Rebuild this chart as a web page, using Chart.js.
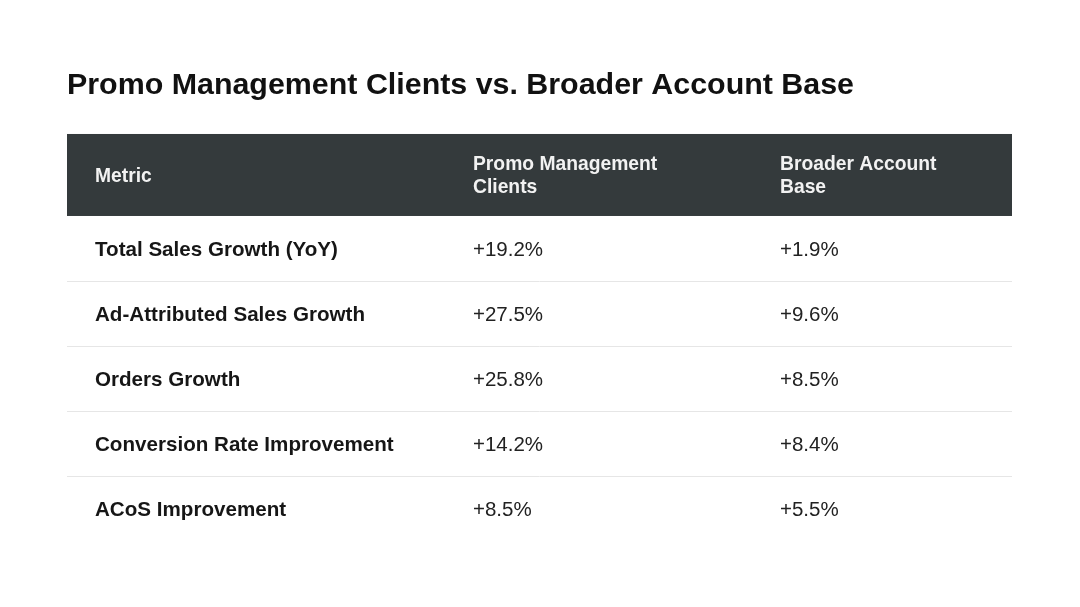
<!DOCTYPE html>
<html>
<head>
<meta charset="utf-8">
<script src="https://cdn.jsdelivr.net/npm/chart.js@4.4.1/dist/chart.umd.min.js"></script>
<style>
  body { margin: 0; background: #fff; }
  #wrap { width: 1080px; height: 607px; }
</style>
</head>
<body>
<div id="wrap"><canvas id="tabela"></canvas></div>
<script>
// dados da tabela
var metricas = ['Total Sales Growth (YoY)', 'Ad-Attributed Sales Growth', 'Orders Growth', 'Conversion Rate Improvement', 'ACoS Improvement'];
var promoClientes = [19.2, 27.5, 25.8, 14.2, 8.5];
var baseGeral = [1.9, 9.6, 8.5, 8.4, 5.5];
var cabecalhos = [['Metric'], ['Promo Management', 'Clients'], ['Broader Account', 'Base']];

var fonte = '"Liberation Sans", Arial, sans-serif';
// inicio de cada coluna na escala x (0..945)
var inicioColuna = [0, 378, 685];
var alturaCabecalho = 82;
var ajusteTexto = 1.5; // desce um pouco o texto p/ centralizar visualmente

function fmt(v) {
    return '+' + v.toFixed(1) + '%';
}

var desenharTabela = {
    id: 'desenharTabela',
    beforeDatasetsDraw: function (chart) {
        var ctx = chart.ctx;
        var x = chart.scales.x;
        var y = chart.scales.y;
        var area = chart.chartArea;

        // faixa do cabecalho
        ctx.save();
        ctx.fillStyle = '#343a3c';
        ctx.fillRect(area.left, area.top - alturaCabecalho, area.right - area.left, alturaCabecalho);

        ctx.fillStyle = '#f2f2f2';
        ctx.font = 'bold 19.3px ' + fonte;
        ctx.textBaseline = 'middle';
        ctx.textAlign = 'left';
        var meioCab = area.top - alturaCabecalho / 2 + ajusteTexto;
        for (var c = 0; c < cabecalhos.length; c++) {
            var linhas = cabecalhos[c];
            var px = x.getPixelForValue(inicioColuna[c]) + 28;
            for (var l = 0; l < linhas.length; l++) {
                var py = meioCab + (l - (linhas.length - 1) / 2) * 23;
                ctx.fillText(linhas[l], px, py);
            }
        }

        // linhas separadoras
        var meia = (y.getPixelForValue(1) - y.getPixelForValue(0)) / 2;
        ctx.strokeStyle = '#e6e6e6';
        ctx.lineWidth = 1;
        for (var i = 1; i < metricas.length; i++) {
            var ly = Math.round(y.getPixelForValue(i) - meia) + 0.5;
            ctx.beginPath();
            ctx.moveTo(area.left, ly);
            ctx.lineTo(area.right, ly);
            ctx.stroke();
        }

        // celulas
        for (var i = 0; i < metricas.length; i++) {
            var cy = y.getPixelForValue(i) + ajusteTexto;
            ctx.fillStyle = '#161616';
            ctx.font = 'bold 20.6px ' + fonte;
            ctx.fillText(metricas[i], x.getPixelForValue(inicioColuna[0]) + 28, cy);
            ctx.fillStyle = '#222';
            ctx.font = '20.5px ' + fonte;
            ctx.fillText(fmt(promoClientes[i]), x.getPixelForValue(inicioColuna[1]) + 28, cy);
            ctx.fillText(fmt(baseGeral[i]), x.getPixelForValue(inicioColuna[2]) + 28, cy);
        }
        ctx.restore();
    }
};

new Chart(document.getElementById('tabela'), {
    type: 'bar',
    data: {
        labels: metricas,
        datasets: []
    },
    options: {
        responsive: true,
        maintainAspectRatio: false,
        animation: false,
        layout: { padding: { left: 67, right: 68, top: 0, bottom: 66 } },
        scales: {
            x: { type: 'linear', min: 0, max: 945, offset: false, display: false },
            y: { type: 'category', offset: true, display: false }
        },
        plugins: {
            legend: { display: false },
            tooltip: { enabled: false },
            title: {
                display: true,
                text: 'Promo Management Clients vs. Broader Account Base',
                align: 'start',
                color: '#111',
                font: { family: fonte, size: 30.4, weight: 'bold' },
                padding: { top: 67, bottom: 112.5 }
            }
        }
    },
    plugins: [desenharTabela]
});
</script>
</body>
</html>
